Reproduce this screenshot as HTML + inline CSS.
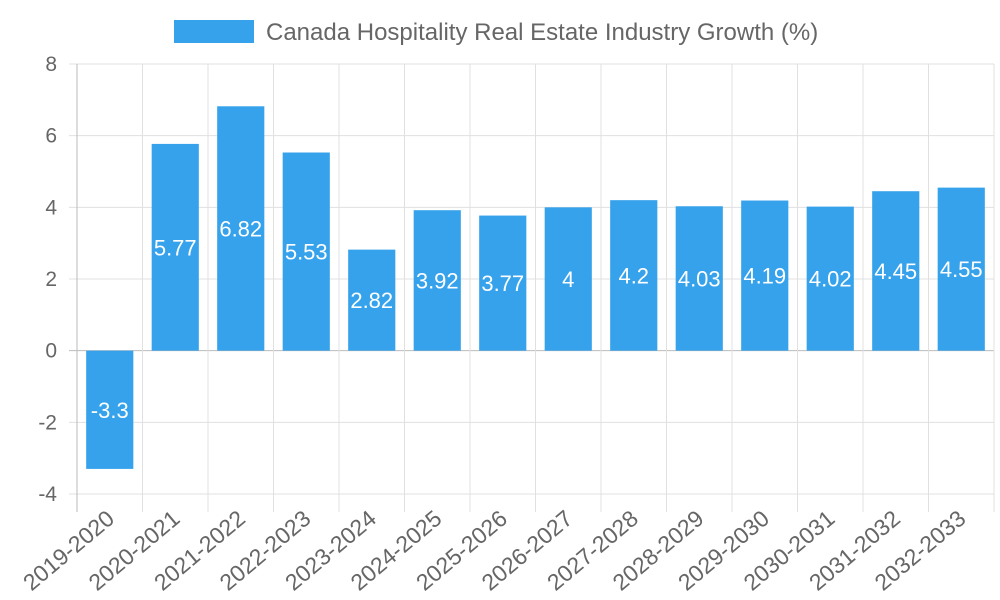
<!DOCTYPE html>
<html><head><meta charset="utf-8"><style>
body{margin:0;background:#fff;}
svg{display:block;font-family:"Liberation Sans",sans-serif;}
</style></head><body>
<svg id="chart" width="1000" height="600">
<g id="legend">
<rect x="174" y="20" width="80" height="23" fill="#36a2eb"/>
<text x="266" y="40" font-size="24" fill="#666">Canada Hospitality Real Estate Industry Growth (%)</text>
</g>
<g id="grid"></g><g id="bars"></g><g id="labels"></g>
</svg>
<script>
const categories=["2019-2020","2020-2021","2021-2022","2022-2023","2023-2024","2024-2025","2025-2026","2026-2027","2027-2028","2028-2029","2029-2030","2030-2031","2031-2032","2032-2033"];
const values=[-3.3,5.77,6.82,5.53,2.82,3.92,3.77,4,4.2,4.03,4.19,4.02,4.45,4.55];
const yTicks=[-4,-2,0,2,4,6,8];
const NS="http://www.w3.org/2000/svg";
const L=77,R=994,T=64,B=494,yMin=-4,yMax=8;
const bw=(R-L)/categories.length;
function y(v){return B-(v-yMin)/(yMax-yMin)*(B-T);}
function x(i){return L+bw*(i+0.5);}
function mk(tag,a,p){const e=document.createElementNS(NS,tag);for(const k in a)e.setAttribute(k,a[k]);p.appendChild(e);return e;}
const g=document.getElementById('grid'),bars=document.getElementById('bars'),lab=document.getElementById('labels');
yTicks.forEach(t=>{
 const ln=mk('line',{x1:L-8,x2:R,y1:y(t),y2:y(t),stroke:t===0?'#bbb':'#e0e0e0','stroke-width':1},g);
 
 
 const tx=mk('text',{x:L-20,y:y(t)+7,'text-anchor':'end','font-size':21,fill:'#666'},lab);
 tx.textContent=t;
 
 
});
for(let i=0;i<=categories.length;i++){
 const ln=mk('line',{x1:L+bw*i,x2:L+bw*i,y1:T,y2:B+18,stroke:i===0?'#bbb':'#e0e0e0','stroke-width':1},g);
 
 
}
categories.forEach((c,i)=>{
 const v=values[i],w=bw*0.72;
 const r=mk('rect',{x:x(i)-w/2,y:Math.min(y(v),y(0)),width:w,height:Math.abs(y(v)-y(0)),fill:'#36a2eb'},bars);
 
 
 const vt=mk('text',{x:x(i),y:(y(v)+y(0))/2+8,'text-anchor':'middle','font-size':22,fill:'#fff'},lab);
 vt.textContent=v;
 
 
 const xt=mk('text',{x:0,y:0,'text-anchor':'end','font-size':23,fill:'#666',transform:`translate(${x(i)+6},${B+27}) rotate(-40)`},lab);
 xt.textContent=c;
 
 
});
</script>
</body></html>
